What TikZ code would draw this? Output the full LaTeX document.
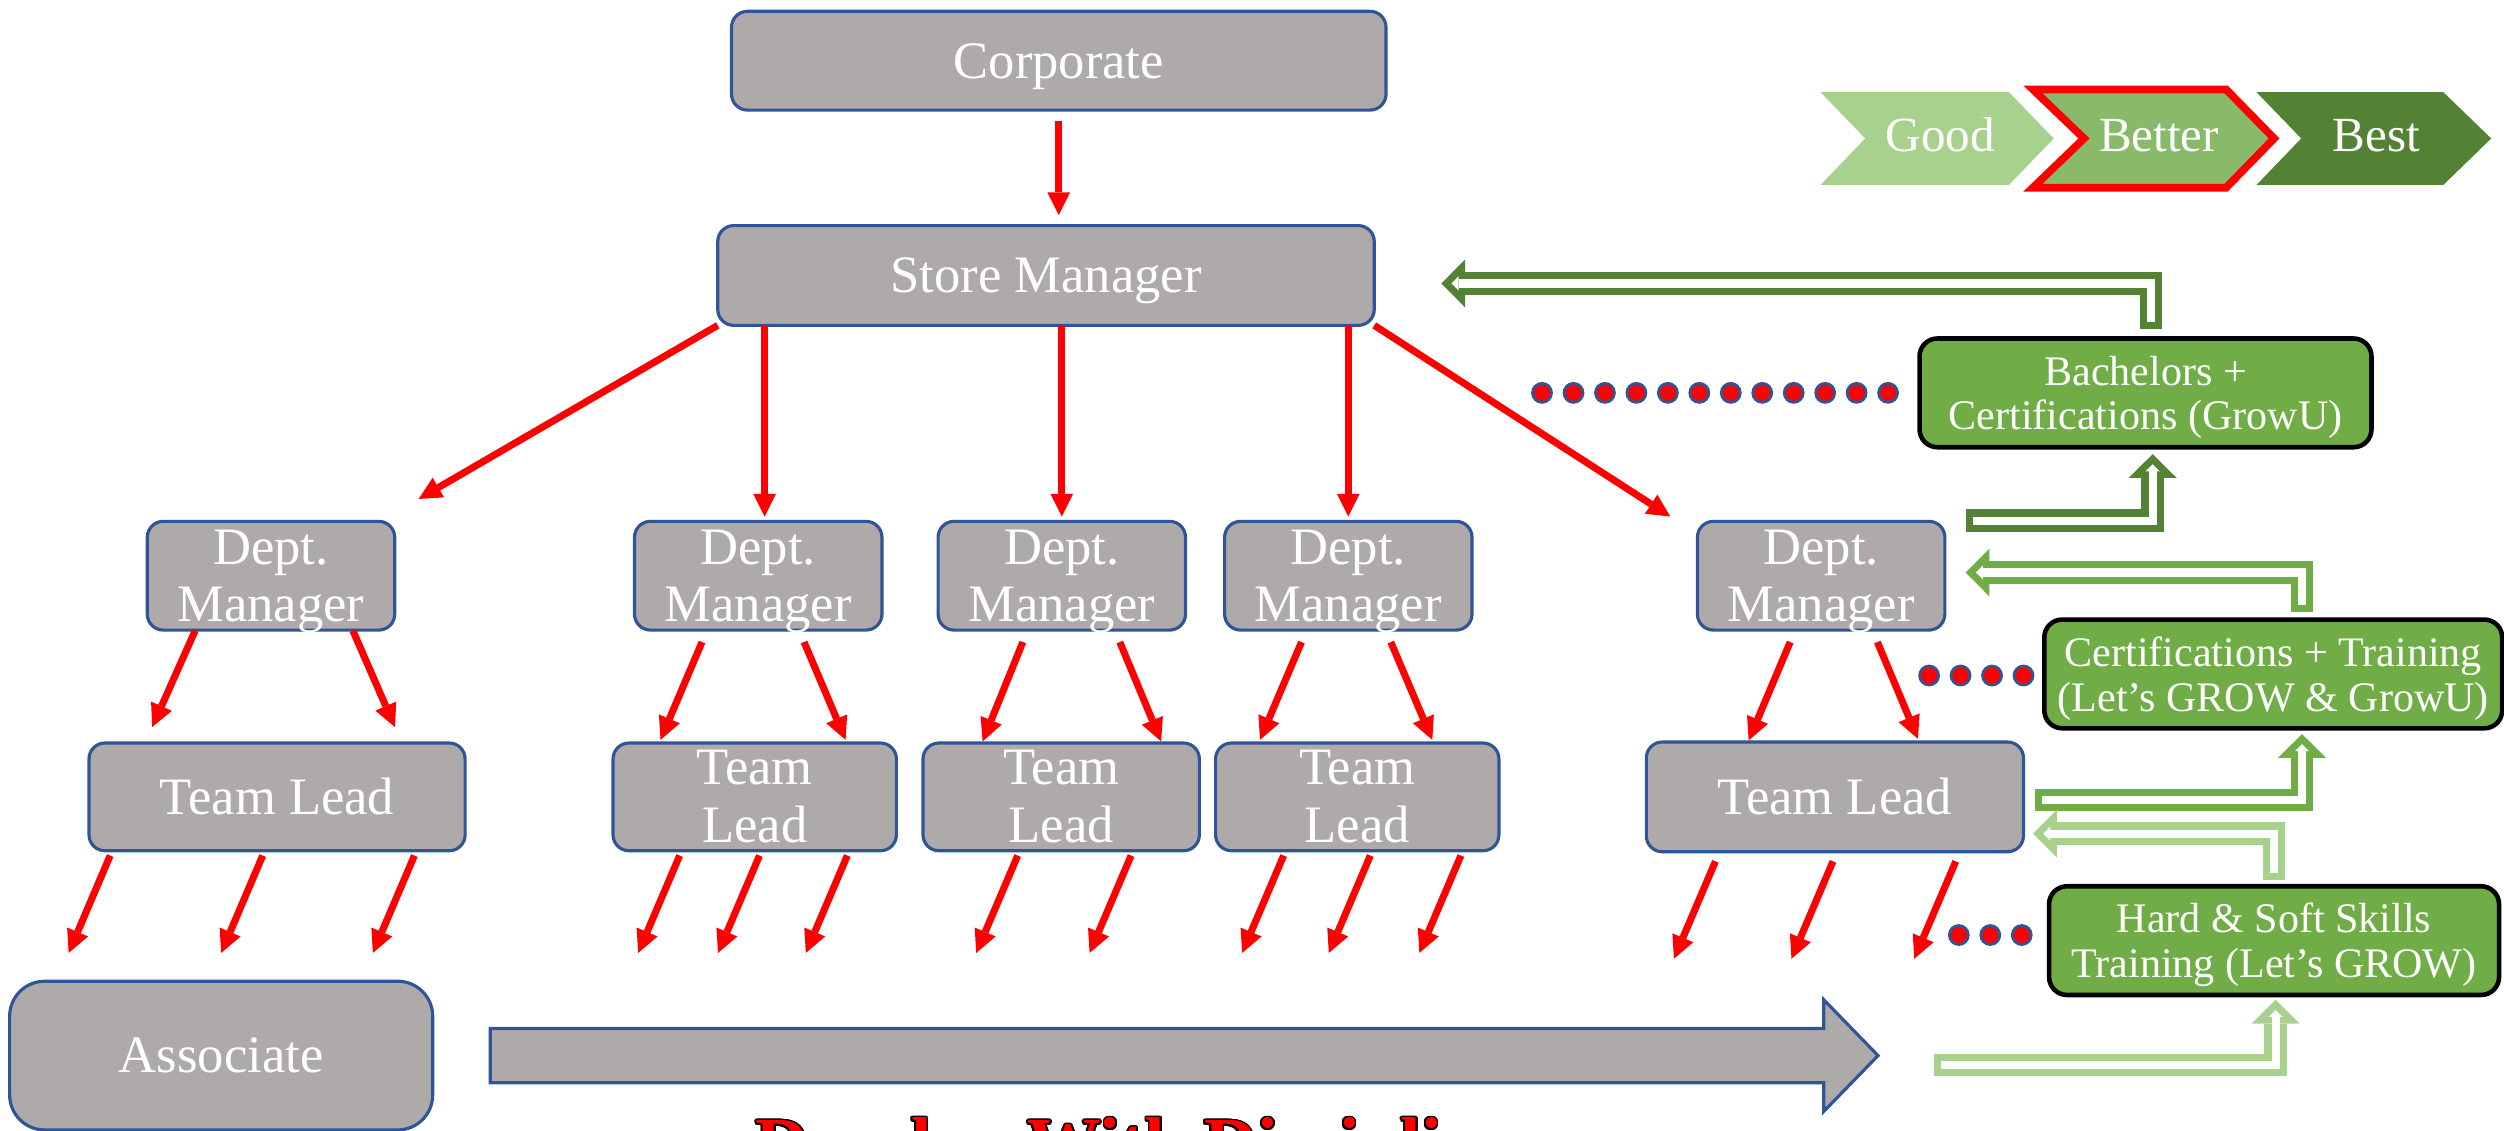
\documentclass[tikz,border=0pt]{standalone}
\usepackage{fontspec}
\setmainfont{Liberation Serif}
\usepackage{contour}
\usetikzlibrary{calc}
\usetikzlibrary{arrows.meta}
\definecolor{boxgray}{HTML}{AEAAAA}
\definecolor{boxblue}{HTML}{2F5597}
\definecolor{dkgreen}{HTML}{548235}
\definecolor{mdgreen}{HTML}{70AD47}
\definecolor{ltgreen}{HTML}{A9D18E}
\definecolor{betgreen}{HTML}{88BA69}
\contourlength{0.5pt}

\begin{document}
\begin{tikzpicture}[x=0.016cm, y=-0.016cm,
 gbox/.style={draw=boxblue, line width=0.9pt, fill=boxgray, rounded corners=0.16cm, text=white, align=center, inner sep=0pt, outer sep=0pt, font=\fontsize{15}{16.5}\selectfont},
 grn/.style={draw=black, line width=1.3pt, fill=mdgreen, rounded corners=0.18cm, text=white, align=center, inner sep=0pt, outer sep=0pt, minimum height=1.09cm, text depth=0pt, font=\fontsize{12}{12.8}\selectfont},
 redarr/.style={draw=red, line width=2pt, -{Triangle[length=6.5pt, width=6.5pt, line width=0pt]}},
 hollow/.style={draw=#1, line width=6.4pt, line join=miter, -{Triangle[length=6.8pt, width=13.7pt, line width=0pt]}, postaction={draw=white, line width=2.3pt, shorten <=2pt, shorten >=2.9pt, -{Triangle[length=2pt, width=4pt, line width=0pt]}}},
 reddot/.style={draw=boxblue, line width=0.8pt, fill=red},
 chev/.style={text=white, anchor=base, font=\fontsize{14}{14}\selectfont}]
\useasboundingbox (0,0) rectangle (1568,708);

\node[gbox, text depth=0pt, minimum width=6.56cm, minimum height=0.99cm] (corp) at (663,38) {Corporate};
\node[gbox, text depth=0pt, minimum width=6.58cm, minimum height=1cm] (sm) at (655,172.5) {Store Manager};
\foreach \n/\x in {dm1/169.7, dm2/474.8, dm3/664.9, dm4/844.3, dm5/1140.4}
 \node[gbox, text depth=0pt, minimum width=2.48cm, minimum height=1.09cm] (\n) at (\x,360.5) {Dept.\\Manager};
\node[gbox, minimum width=3.77cm, minimum height=1.08cm] (tl1) at (173.5,499) {Team Lead};
\foreach \n/\x/\w in {tl2/472.6/2.84, tl3/664.5/2.77, tl4/849.9/2.84}
 \node[gbox, minimum width=\w cm, minimum height=1.08cm] (\n) at (\x,499) {Team\\Lead};
\node[gbox, minimum width=3.78cm, minimum height=1.1cm] (tl5) at (1149,499) {Team Lead};
\node[gbox, minimum width=4.24cm, minimum height=1.49cm, rounded corners=0.35cm] (assoc) at (138.5,661) {Associate};

\node[grn, minimum width=4.53cm] (bach) at (1343.5,246) {Bachelors +\\Certifications (GrowU)};
\node[grn, minimum width=4.59cm] (cert) at (1423.5,422) {Certifications + Training\\(Let’s GROW \& GrowU)};
\node[grn, minimum width=4.51cm] (hard) at (1424,589) {Hard \& Soft Skills\\Training (Let’s GROW)};

\fill[ltgreen] (1140,57.7) -- (1258,57.7) -- (1286,86.7) -- (1258,115.8) -- (1140,115.8) -- (1168,86.7) -- cycle;
\draw[red, line width=2.2pt, fill=betgreen] (1273,56) -- (1394,56) -- (1424,86.7) -- (1394,117.5) -- (1273,117.5) -- (1305,86.7) -- cycle;
\fill[dkgreen] (1413,57.7) -- (1530,57.7) -- (1560,86.7) -- (1530,115.8) -- (1413,115.8) -- (1441,86.7) -- cycle;
\node[chev] (good) at (1215,95) {Good};
\node[chev] (better) at (1352,95) {Better};
\node[chev] (best) at (1488,95) {Best};

\draw[redarr, shorten <=3pt, shorten >=3pt] (corp.south) -- (corp.south |- sm.north);
\draw[redarr] (sm.south west) -- ($(dm1.north east)+(15,-14)$);
\foreach \n/\dx in {dm2/4, dm3/0, dm4/0}
 \draw[redarr] ($(sm.south -| \n.north)+(\dx,0)$) -- ($(\n.north)+(\dx,-3)$);
\draw[redarr] (sm.south east) -- ($(dm5.north west)+(-17,-3)$);

\foreach \d/\t/\a/\b/\c/\e in {dm1/tl1/-47.5/0.4/-78.2/-10, dm1/tl1/51.3/0.4/73.8/-10,
 dm2/tl2/-35.2/7.5/-59/-2, dm2/tl2/28.7/7.5/56.9/-2, dm3/tl3/-24.4/7.5/-49.2/-1, dm3/tl3/36.3/7.5/62.6/-1,
 dm4/tl4/-29.3/7.5/-60.9/-2, dm4/tl4/26.6/7.5/47/-2, dm5/tl5/-19.4/7.5/-54/-1, dm5/tl5/35.2/7.5/52/-2}
 \draw[redarr] ($(\d.south)+(\a,\b)$) -- ($(\t.north)+(\c,\e)$);

\foreach \t/\dx/\dy in {tl1/-104.5/3, tl1/-9/3, tl1/86/3, tl2/-47/3, tl2/3/3, tl2/58/3,
 tl3/-27.2/3, tl3/43.8/3, tl4/-46.1/3, tl4/8.2/3, tl4/64.9/3, tl5/-74.8/6, tl5/-1.2/6, tl5/75.7/6}
 \draw[redarr] ($(\t.south)+(\dx,\dy)$) -- ++(-26,61);

\draw[draw=boxblue, line width=0.9pt, fill=boxgray] (307,644) -- (1142,644) -- (1142,626) -- (1176,661) -- (1142,696) -- (1142,678) -- (307,678) -- cycle;
\coordinate (bigtip) at (1176,661);

\draw[hollow=dkgreen] ($(bach.north)+(3.5,-6)$) |- ($(sm.east)+(42,5)$);
\draw[hollow=dkgreen] ($(dm5.north east)+(13,-0.5)$) -| ($(bach.south)+(4.5,4.3)$);
\draw[hollow=mdgreen] ($(cert.north)+(18,-5)$) |- ($(dm5.east)+(13,-2)$);
\draw[hollow=mdgreen] ($(tl5.east)+(7,2)$) -| ($(cert.south)+(18,3.6)$);
\draw[hollow=ltgreen] ($(hard.north)+(0,-4)$) |- ($(tl5.east)+(6,23)$);
\draw[hollow=ltgreen] ($(bigtip)+(35,6)$) -| ($(hard.south)+(1,3)$);

\foreach \i in {0,...,11}
 \draw[reddot] (965.6+19.7*\i,246) circle[radius=0.095cm];
\foreach \i in {0,...,3}
 \draw[reddot] (1208+19.7*\i,423) circle[radius=0.095cm];
\foreach \i in {0,...,2}
 \draw[reddot] (1226.6+19.7*\i,585.5) circle[radius=0.095cm];

\node[anchor=base, text=red, font=\fontsize{21}{21}\bfseries\selectfont] (motto) at (711,732) {\contour{black}{Develop With Discipline}};
\end{tikzpicture}
\end{document}
